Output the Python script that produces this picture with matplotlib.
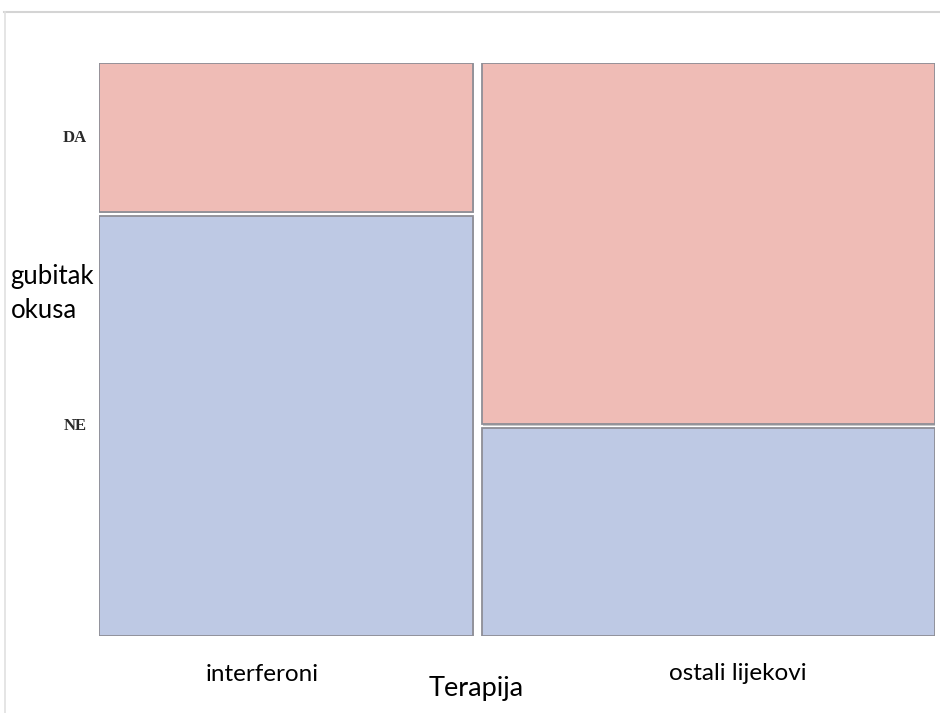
import matplotlib.pyplot as plt
from matplotlib.patches import Rectangle
from matplotlib.lines import Line2D

# ---------------------------------------------------------------------------
# Data (counts read off the mosaic)
# ---------------------------------------------------------------------------
therapies = ["interferoni", "ostali lijekovi"]
levels = ["DA", "NE"]
da_counts = [16, 47]
ne_counts = [45, 27]

PINK = "#EFBCB6"
BLUE = "#BEC9E4"
EDGE = "#8E8E96"

fig = plt.figure(figsize=(9.4, 7.13), dpi=100)
ax = fig.add_axes([99 / 940, 77 / 713, 836 / 940, 573 / 713])
ax.set_xlim(0, 1)
ax.set_ylim(0, 1)
ax.axis("off")

xgap = 9 / 836
ygap = 4 / 573
totals = [d + n for d, n in zip(da_counts, ne_counts)]
grand = sum(totals)
avail_w = 1 - xgap * (len(totals) - 1)
avail_h = 1 - ygap

x0 = 0.0
col_geom = []
for da, ne, tot in zip(da_counts, ne_counts, totals):
    w = avail_w * tot / grand
    h_ne = avail_h * ne / tot
    h_da = avail_h * da / tot
    # shadow + cell (NE at bottom, DA on top)
    for y, h, col in [(0, h_ne, BLUE), (h_ne + ygap, h_da, PINK)]:
        ax.add_patch(Rectangle((x0 + 0.0015, y - 0.002), w, h, facecolor="#c8c8c8",
                               edgecolor="none", zorder=1))
        ax.add_patch(Rectangle((x0, y), w, h, facecolor=col, edgecolor=EDGE,
                               linewidth=1.3, zorder=2))
    col_geom.append((x0, w, h_ne))
    x0 += w + xgap

# row labels at centres of the first column's cells
fx, fw, fh_ne = col_geom[0]
for lab, yc in zip(levels, [fh_ne + ygap + (1 - fh_ne - ygap) / 2, fh_ne / 2]):
    ax.text(-0.015, yc, lab, ha="right", va="center", fontsize=12,
            family="Liberation Serif", fontweight="bold", color="#2a2a2a")

# axis names and categories
ax.text(-0.106, 0.597, "gubitak\nokusa", ha="left", va="center", fontsize=18.5,
        family="Lato", linespacing=1.45, transform=ax.transAxes)
ax.text(0.195, -0.068, therapies[0], ha="center", va="center", fontsize=17.5,
        family="Lato", transform=ax.transAxes)
ax.text(0.764, -0.065, therapies[1], ha="center", va="center", fontsize=17.5,
        family="Lato", transform=ax.transAxes)
ax.text(0.451, -0.091, "Terapija", ha="center", va="center", fontsize=19.5,
        family="Lato", transform=ax.transAxes)

# outer frame lines
fig.add_artist(Line2D([4 / 940, 1], [1 - 12 / 713] * 2, color="#d4d4d4", lw=1.5,
                      transform=fig.transFigure))
fig.add_artist(Line2D([5 / 940] * 2, [0, 1 - 12 / 713], color="#e0e0e0", lw=1.2,
                      transform=fig.transFigure))

fig.savefig("out.png", dpi=100)
